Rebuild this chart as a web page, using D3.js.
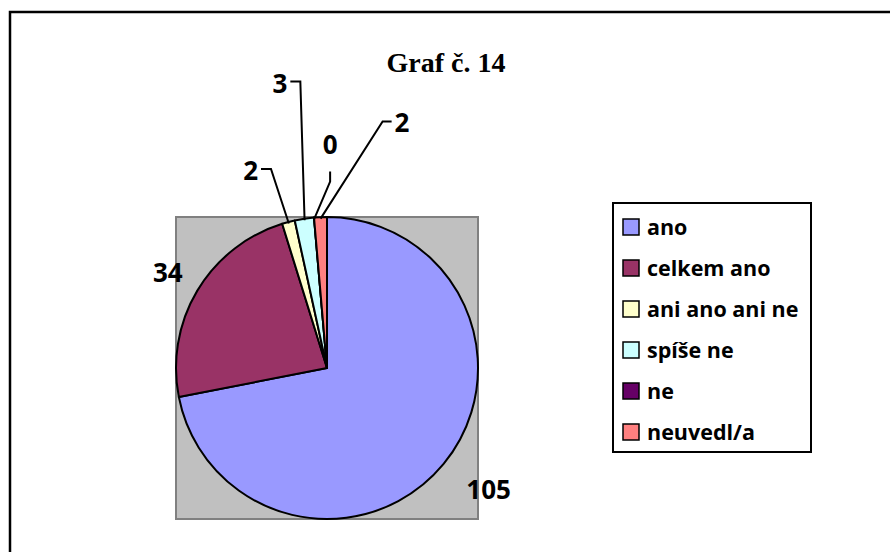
<!DOCTYPE html>
<html>
<head>
  <meta charset="utf-8">
  <style>
    body { margin: 0; background: #fff; }
    text { font-family: "Open Sans", sans-serif; font-weight: bold; }
    .title { font-family: "Liberation Serif", "Times New Roman", serif; }
  </style>
</head>
<body>
<svg id="chart" width="890" height="552"></svg>
<script src="https://cdn.jsdelivr.net/npm/d3@7"></script>
<script>
  // data
  const categories = ["ano", "celkem ano", "ani ano ani ne", "spíše ne", "ne", "neuvedl/a"];
  const values = [105, 34, 2, 3, 0, 2];
  const colors = ["#9999ff", "#993366", "#ffffcc", "#ccffff", "#660066", "#ff8080"];
  const title = "Graf č. 14";

  // label layout: angle (deg from top) and radius factor, leader style
  const labelLayout = [
    { ang: 127, k: 1.34, leader: null },
    { ang: 301, k: 1.23, leader: null },
    { ang: 338.8, k: 1.40, leader: "right" },
    { ang: 350.6, k: 1.91, leader: "right" },
    { ang: 0.8, k: 1.48, leader: "down" },
    { ang: 17, k: 1.70, leader: "left" }
  ];

  const svg = d3.select("#chart");

  // outer frame
  svg.append("rect")
    .attr("x", 10).attr("y", 12)
    .attr("width", 900).attr("height", 560)
    .attr("fill", "none").attr("stroke", "#000").attr("stroke-width", 2.5);

  svg.append("text")
    .attr("class", "title")
    .attr("x", 446).attr("y", 72)
    .attr("text-anchor", "middle")
    .style("font-size", "28px")
    .text(title);

  const cx = 327, cy = 368, r = 151;

  // plot area
  svg.append("rect")
    .attr("x", cx - r).attr("y", cy - r)
    .attr("width", 2 * r).attr("height", 2 * r)
    .attr("fill", "#c0c0c0").attr("stroke", "#808080").attr("stroke-width", 2);

  const color = d3.scaleOrdinal().domain(categories).range(colors);

  const pie = d3.pie().sort(null).value(d => d.value);
  const table = categories.map((c, i) => ({ name: c, value: values[i] }));
  const arcs = pie(table);

  const arc = d3.arc().innerRadius(0).outerRadius(r);

  const g = svg.append("g").attr("transform", `translate(${cx},${cy})`);

  g.selectAll("path")
    .data(arcs)
    .join("path")
    .attr("d", arc)
    .attr("fill", d => color(d.data.name))
    .attr("stroke", "#000")
    .attr("stroke-width", 2)
    .attr("stroke-linejoin", "round");

  const polar = (deg, rad) => {
    const a = deg * Math.PI / 180;
    return [rad * Math.sin(a), -rad * Math.cos(a)];
  };

  // labels
  arcs.forEach((d, i) => {
    const lay = labelLayout[i];
    const [lx, ly] = polar(lay.ang, r * lay.k);
    const txt = g.append("text")
      .attr("x", lx).attr("y", ly)
      .attr("dy", "0.36em")
      .attr("text-anchor", "middle")
      .style("font-size", "26px")
      .text(d.data.value);

    if (lay.leader) {
      const mid = (d.startAngle + d.endAngle) / 2;
      const end = [0.99 * r * Math.sin(mid), -0.99 * r * Math.cos(mid)];
      const w = txt.node().getComputedTextLength();
      let p0, p1;
      if (lay.leader === "right") {
        p0 = [lx + w / 2 + 3, ly - 2];
        p1 = [p0[0] + 10, p0[1]];
      } else if (lay.leader === "left") {
        p0 = [lx - w / 2 - 3, ly - 1];
        p1 = [p0[0] - 9, p0[1]];
      } else {
        p0 = [lx, ly + 27];
        p1 = [lx, ly + 37];
      }
      g.append("path")
        .attr("d", d3.line()([p0, p1, end]))
        .attr("fill", "none")
        .attr("stroke", "#000")
        .attr("stroke-width", 2);
    }
  });

  // legend
  const legend = svg.append("g").attr("transform", "translate(613,203)");
  legend.append("rect")
    .attr("width", 198).attr("height", 249)
    .attr("fill", "#fff").attr("stroke", "#000").attr("stroke-width", 2);

  const ly = d3.scalePoint().domain(categories).range([24, 229]);

  const item = legend.selectAll("g.item")
    .data(categories)
    .join("g")
    .attr("class", "item")
    .attr("transform", d => `translate(0,${ly(d)})`);

  item.append("rect")
    .attr("x", 10).attr("y", -8)
    .attr("width", 16).attr("height", 16)
    .attr("fill", d => color(d))
    .attr("stroke", "#000").attr("stroke-width", 1.5);

  item.append("text")
    .attr("x", 34).attr("dy", "0.36em")
    .style("font-size", "21.5px")
    .text(d => d);
</script>
</body>
</html>
